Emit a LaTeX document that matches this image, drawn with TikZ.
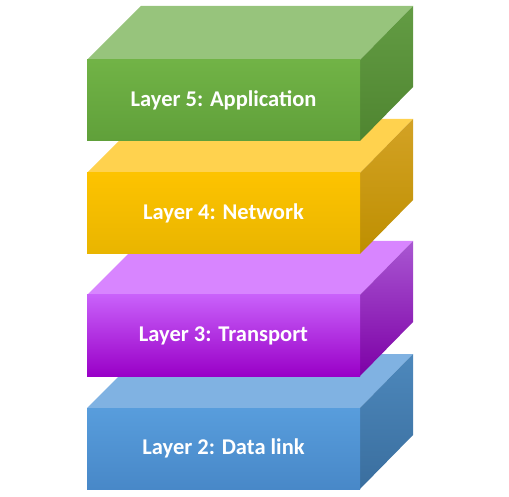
\documentclass[tikz,border=0pt]{standalone}
\usepackage{fontspec}
\setmainfont{Carlito}
\usepackage{tikz}
\usetikzlibrary{positioning}

\definecolor{gTop}{HTML}{97C47C}
\definecolor{gFrontA}{HTML}{71B346}
\definecolor{gFrontB}{HTML}{60A03A}
\definecolor{gSideA}{HTML}{639C44}
\definecolor{gSideB}{HTML}{4F8530}
\definecolor{yTop}{HTML}{FFD24E}
\definecolor{yFrontA}{HTML}{FDC300}
\definecolor{yFrontB}{HTML}{E9B500}
\definecolor{ySideA}{HTML}{D3A225}
\definecolor{ySideB}{HTML}{BE8F00}
\definecolor{pTop}{HTML}{D885FF}
\definecolor{pFrontA}{HTML}{C961FA}
\definecolor{pFrontB}{HTML}{9900C7}
\definecolor{pSideA}{HTML}{A957D2}
\definecolor{pSideB}{HTML}{7D00A6}
\definecolor{bTop}{HTML}{80B2E2}
\definecolor{bFrontA}{HTML}{589DDC}
\definecolor{bFrontB}{HTML}{4888C8}
\definecolor{bSideA}{HTML}{4D88BC}
\definecolor{bSideB}{HTML}{3A6E9E}

\begin{document}
\begin{tikzpicture}[x=1pt, y=-1pt,
    layer/.style={font=\bfseries\fontsize{22.5}{26}\selectfont, text=white}]
   \useasboundingbox (0,0) rectangle (509,497);

   % boxes from the bottom up: top y, colour prefix
   \foreach \t/\c in {408/b, 295/p, 173/y, 60/g} {
      \fill[\c Top] (87,\t) -- (141,\t-54) -- (413,\t-54) -- (360,\t) -- cycle;
      \shade[top color=\c SideA, bottom color=\c SideB]
         (360,\t) -- (413,\t-54) -- (413,\t+27) -- (360,\t+81) -- cycle;
      \shade[top color=\c FrontA, bottom color=\c FrontB]
         (87,\t) rectangle (360,\t+81);
   }

   \node[layer] (l5) at (223.5,100.5) {Layer 5: Application};
   \node[layer] (l4) at (223.5,213.5) {Layer 4: Network};
   \node[layer] (l3) at (223.5,335.5) {Layer 3: Transport};
   \node[layer] (l2) at (223.5,448.5) {Layer 2: Data link};
\end{tikzpicture}
\end{document}
